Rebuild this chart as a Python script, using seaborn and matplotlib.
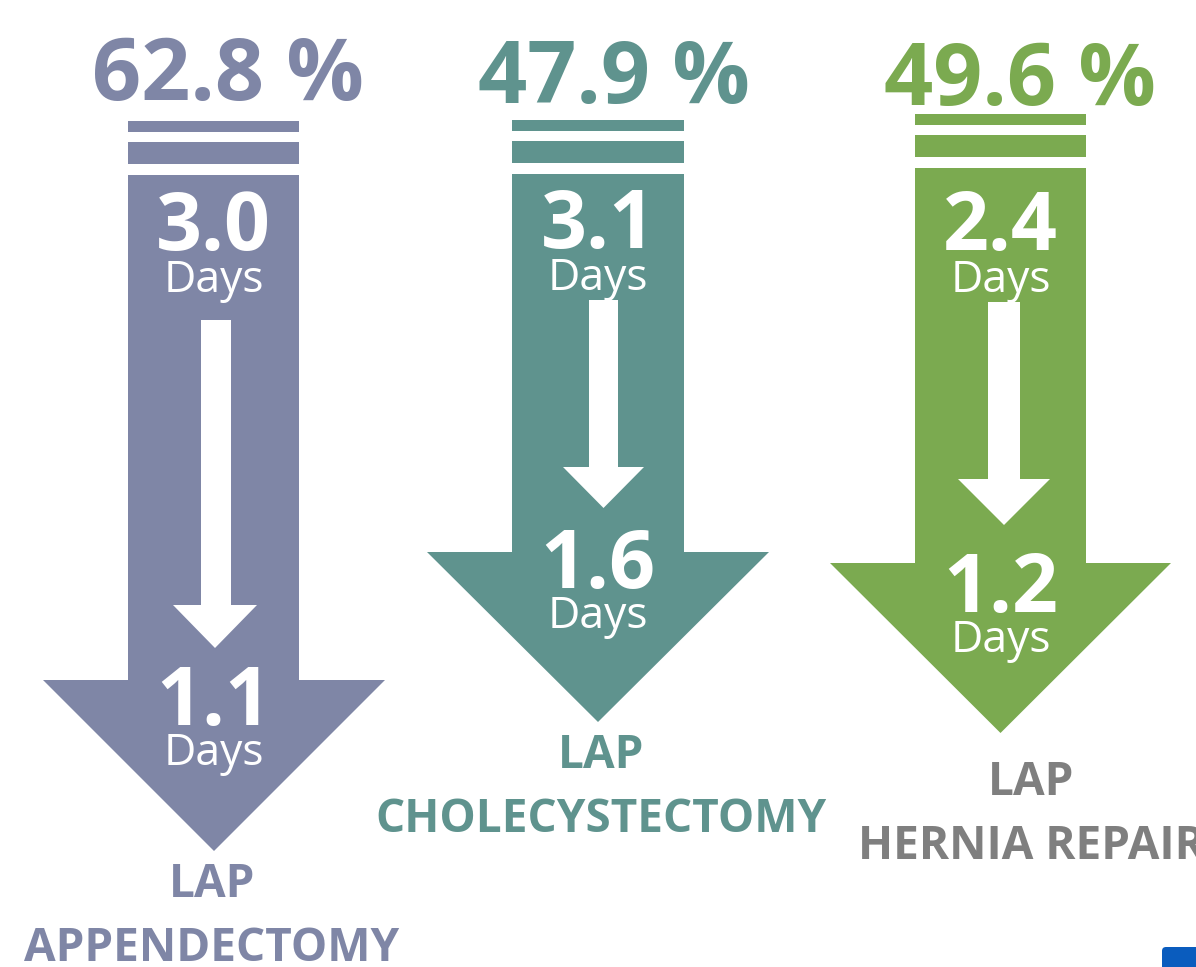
import numpy as np
import matplotlib
matplotlib.use("Agg")
import matplotlib.pyplot as plt
import seaborn as sns
from matplotlib.patches import Polygon, Rectangle, FancyBboxPatch

# data
procedures = ["LAP\nAPPENDECTOMY", "LAP\nCHOLECYSTECTOMY", "LAP\nHERNIA REPAIR"]
pct_reduction = [62.8, 47.9, 49.6]
los_before = [3.0, 3.1, 2.4]
los_after = [1.1, 1.6, 1.2]
arrow_colors = ["#7F86A6", "#5F938E", "#7BAA50"]
label_colors = ["#7F86A6", "#5F938E", "#7F7F7F"]

# layout (pixel units, y down)
shaft_x0 = [128, 512, 915]
shaft_x1 = [299, 684, 1086]
stripe_top = [121, 120, 114]
head_y = [680, 552, 563]
head_x0 = [43, 427, 830]
head_x1 = [385, 769, 1171]
tip_y = [851, 722, 733]
inner_x0 = [201, 589, 988]
inner_x1 = [231, 618, 1020]
inner_top = [320, 300, 302]
inner_head = [605, 467, 479]
inner_hx0 = [173, 563, 958]
inner_hx1 = [257, 644, 1050]
inner_tip = [648, 508, 525]
pct_x = [228, 614, 1020]
pct_base = [100, 103, 105]
before_base = [250, 248, 250]
after_base = [725, 588, 612]
lap_base = [897, 768, 795]
lap_x = [212, 601, 1031]

sns.set_theme(style="white")
plt.rcParams["font.family"] = ["Open Sans", "DejaVu Sans"]

fig = plt.figure(figsize=(11.96, 9.67), dpi=100)
ax = fig.add_axes([0, 0, 1, 1])
ax.set_xlim(0, 1196)
ax.set_ylim(967, 0)
ax.axis("off")

for i in range(len(procedures)):
    c = arrow_colors[i]
    x0, x1 = shaft_x0[i], shaft_x1[i]
    xm = (x0 + x1) / 2
    st = stripe_top[i]
    # stripes above the arrow
    ax.add_patch(Rectangle((x0, st), x1 - x0, 11, color=c, lw=0))
    ax.add_patch(Rectangle((x0, st + 21), x1 - x0, 22, color=c, lw=0))
    # big arrow
    pts = [(x0, st + 54), (x1, st + 54), (x1, head_y[i]), (head_x1[i], head_y[i]),
           ((head_x0[i] + head_x1[i]) / 2, tip_y[i]), (head_x0[i], head_y[i]), (x0, head_y[i])]
    ax.add_patch(Polygon(pts, closed=True, color=c, lw=0))
    # inner white arrow
    ix0, ix1 = inner_x0[i], inner_x1[i]
    ipts = [(ix0, inner_top[i]), (ix1, inner_top[i]), (ix1, inner_head[i]), (inner_hx1[i], inner_head[i]),
            ((inner_hx0[i] + inner_hx1[i]) / 2, inner_tip[i]), (inner_hx0[i], inner_head[i]), (ix0, inner_head[i])]
    ax.add_patch(Polygon(ipts, closed=True, color="white", lw=0))

    ax.text(pct_x[i], pct_base[i], f"{pct_reduction[i]:.1f} %", color=c, fontsize=62,
            fontweight="bold", ha="center", va="baseline")
    ax.text(xm, before_base[i], f"{los_before[i]:.1f}", color="white", fontsize=58,
            fontweight="bold", ha="center", va="baseline")
    ax.text(xm, before_base[i] + 42, "Days", color="white", fontsize=32,
            ha="center", va="baseline")
    ax.text(xm, after_base[i], f"{los_after[i]:.1f}", color="white", fontsize=58,
            fontweight="bold", ha="center", va="baseline")
    ax.text(xm, after_base[i] + 40, "Days", color="white", fontsize=32,
            ha="center", va="baseline")
    top, bottom = procedures[i].split("\n")
    ax.text(lap_x[i], lap_base[i], top, color=label_colors[i], fontsize=33,
            fontweight="bold", ha="center", va="baseline")
    ax.text(lap_x[i], lap_base[i] + 64, bottom, color=label_colors[i], fontsize=33,
            fontweight="bold", ha="center", va="baseline")

# logo fragment at bottom-right
ax.add_patch(FancyBboxPatch((1162, 947), 60, 40, boxstyle="round,pad=0,rounding_size=4",
                            color="#0A5CBE", lw=0))

fig.savefig("out.png", dpi=100)
